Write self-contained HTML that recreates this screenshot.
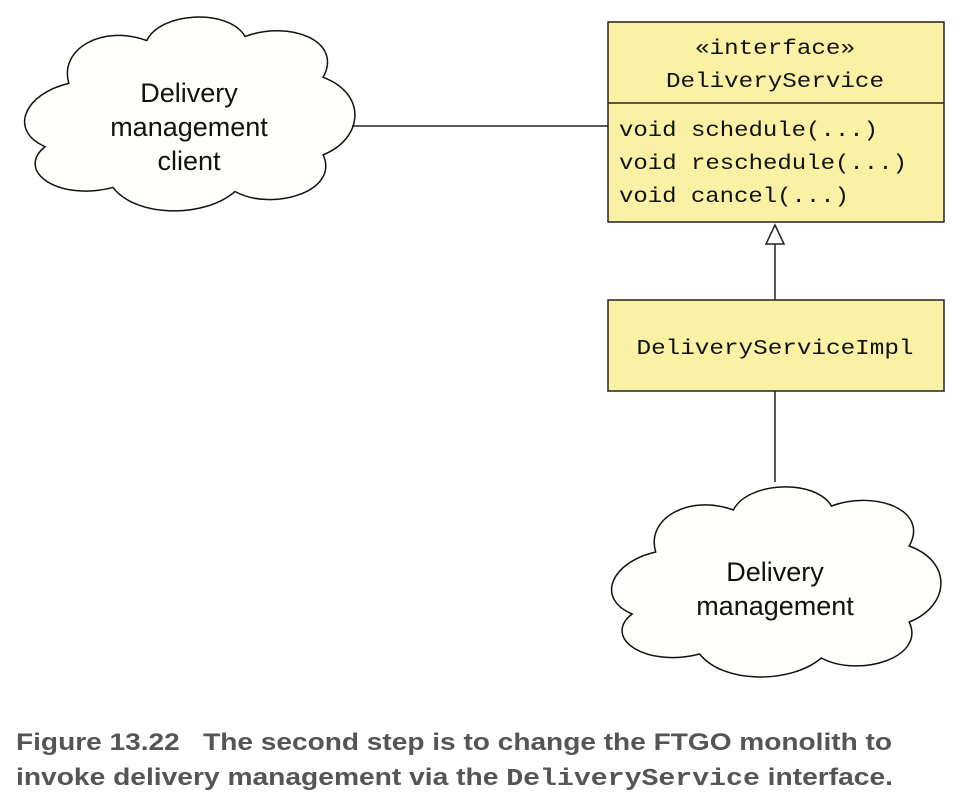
<!DOCTYPE html>
<html><head><meta charset="utf-8"><style>
html,body{margin:0;padding:0;background:#fff;width:964px;height:800px;overflow:hidden}
</style></head><body>
<svg width="964" height="800" viewBox="0 0 964 800" xmlns="http://www.w3.org/2000/svg">
<!-- clouds -->
<g transform="translate(18,12) scale(3.39,2.04)">
<path d="M 15,35 C 12,18 25,6 38,14 C 42,0 62,-2 67,12 C 80,4 96,14 90,32 C 103,40 102,62 90,70 C 95,88 75,98 64,88 C 55,101 35,101 28,86 C 12,93 -1,78 8,66 C -3,58 2,40 15,35 Z" fill="#fffffc" stroke="#111" stroke-width="1.5" vector-effect="non-scaling-stroke"/>
</g>
<g transform="translate(605,482) scale(3.38,2.0)">
<path d="M 15,35 C 12,18 25,6 38,14 C 42,0 62,-2 67,12 C 80,4 96,14 90,32 C 103,40 102,62 90,70 C 95,88 75,98 64,88 C 55,101 35,101 28,86 C 12,93 -1,78 8,66 C -3,58 2,40 15,35 Z" fill="#fffffc" stroke="#111" stroke-width="1.5" vector-effect="non-scaling-stroke"/>
</g>
<!-- connectors -->
<line x1="352" y1="126" x2="608" y2="126" stroke="#222" stroke-width="1.5"/>
<line x1="775" y1="244" x2="775" y2="300" stroke="#222" stroke-width="1.5"/>
<polygon points="775,225 766,244 784,244" fill="#fff" stroke="#222" stroke-width="1.5"/>
<line x1="775" y1="391" x2="775" y2="482" stroke="#222" stroke-width="1.5"/>
<!-- boxes -->
<rect x="608" y="22" width="336" height="200" fill="#faf1a4" stroke="#222" stroke-width="1.5"/>
<line x1="608" y1="103" x2="944" y2="103" stroke="#222" stroke-width="1.5"/>
<rect x="608" y="300" width="336" height="91" fill="#faf1a4" stroke="#222" stroke-width="1.5"/>
<g font-family="Liberation Mono, monospace" font-size="21" fill="#111">
<text x="775" y="54" text-anchor="middle" textLength="160" lengthAdjust="spacingAndGlyphs">«interface»</text>
<text x="775" y="87" text-anchor="middle" textLength="218" lengthAdjust="spacingAndGlyphs">DeliveryService</text>
<text x="619" y="136" textLength="259" lengthAdjust="spacingAndGlyphs">void schedule(...)</text>
<text x="619" y="169" textLength="288" lengthAdjust="spacingAndGlyphs">void reschedule(...)</text>
<text x="619" y="202" textLength="230" lengthAdjust="spacingAndGlyphs">void cancel(...)</text>
<text x="775" y="354" text-anchor="middle" textLength="277" lengthAdjust="spacingAndGlyphs">DeliveryServiceImpl</text>
</g>
<g font-family="Liberation Sans, sans-serif" font-size="27" fill="#111" text-anchor="middle">
<text x="189" y="102">Delivery</text>
<text x="189" y="136">management</text>
<text x="189" y="170">client</text>
<text x="775" y="581">Delivery</text>
<text x="775" y="615">management</text>
</g>
<g font-family="Liberation Sans, sans-serif" font-weight="bold" font-size="24" fill="#555">
<text x="16" y="750" textLength="876" lengthAdjust="spacingAndGlyphs">Figure 13.22<tspan dx="20">The second step is to change the FTGO monolith to</tspan></text>
<text x="16" y="785" textLength="877" lengthAdjust="spacingAndGlyphs">invoke delivery management via the <tspan font-family="Liberation Mono, monospace">DeliveryService</tspan> interface.</text>
</g>
</svg>
</body></html>
